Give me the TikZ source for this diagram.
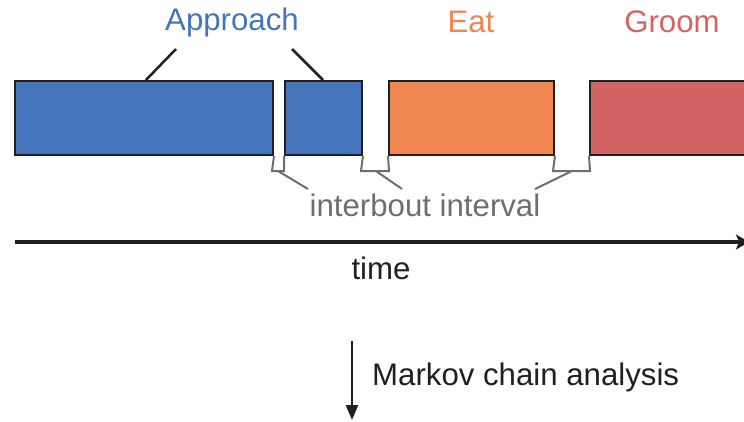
\documentclass[tikz,border=0pt]{standalone}
\usepackage{fontspec}
\setmainfont{Liberation Sans}
\usetikzlibrary{arrows.meta}
\definecolor{cblue}{RGB}{68,117,186}
\definecolor{corange}{RGB}{239,134,81}
\definecolor{cred}{RGB}{212,100,100}
\definecolor{cgray}{RGB}{109,110,113}
\definecolor{cdark}{RGB}{35,31,32}
\begin{document}
\begin{tikzpicture}[x=1pt,y=-1pt,
  bout/.style={draw=cdark,line width=2pt,anchor=north west,minimum height=74pt,inner sep=0pt},
  lbl/.style={font=\fontsize{31.2}{36}\selectfont,inner sep=0pt},
  brk/.style={draw=cgray,line width=2pt},
  lead/.style={draw=cdark,line width=2.5pt}]
\useasboundingbox (0,0) rectangle (744,421);
\clip (0,0) rectangle (744,421);
% bouts
\node[bout,fill=cblue,minimum width=258pt] (b1) at (14,80) {};
\node[bout,fill=cblue,minimum width=77pt] (b2) at (284,80) {};
\node[bout,fill=corange,minimum width=165pt] (b3) at (388,80) {};
\node[bout,fill=cred,minimum width=170pt] (b4) at (589,80) {};
% labels
\node[lbl,text=cblue] (tA) at (232,22) {Approach};
\node[lbl,text=corange] (tE) at (471,22) {Eat};
\node[lbl,text=cred] (tG) at (672,22) {Groom};
\coordinate (a1) at (176,49); \coordinate (a1b) at (146,80);
\coordinate (a2) at (292,49); \coordinate (a2b) at (323,80);
\draw[lead] (a1) -- (a1b);
\draw[lead] (a2) -- (a2b);
% interbout brackets
\node[lbl,text=cgray] (ti) at (425,205) {interbout interval};
\coordinate (k1) at (278,171); \coordinate (k1t) at (308,189);
\coordinate (k2) at (376,171); \coordinate (k2t) at (402,189);
\coordinate (k3) at (572,171); \coordinate (k3t) at (535,189);
\draw[brk] (b1.south east) -- (272,171) -- (284,171) -- (b2.south west);
\draw[brk] (b2.south east) -- (361,171) -- (389,171) -- (b3.south west);
\draw[brk] (b3.south east) -- (553,171) -- (590,171) -- (b4.south west);
\draw[brk] (k1) -- (k1t);
\draw[brk] (k2) -- (k2t);
\draw[brk] (k3) -- (k3t);
% time axis
\coordinate (t0) at (15,242); \coordinate (t1) at (749,242);
\draw[draw=cdark,line width=3.5pt,-{Stealth[length=13pt,width=15pt,inset=3pt]}] (t0) -- (t1);
\node[lbl,text=cdark] (tt) at (381,268) {time};
% markov arrow
\coordinate (m0) at (352,341); \coordinate (m1) at (352,420);
\draw[draw=cdark,line width=2.5pt,-{Triangle[length=15pt,width=12pt]}] (m0) -- (m1);
\node[lbl,text=cdark,anchor=west] (tm) at (372,377) {Markov chain analysis};
\end{tikzpicture}
\end{document}
